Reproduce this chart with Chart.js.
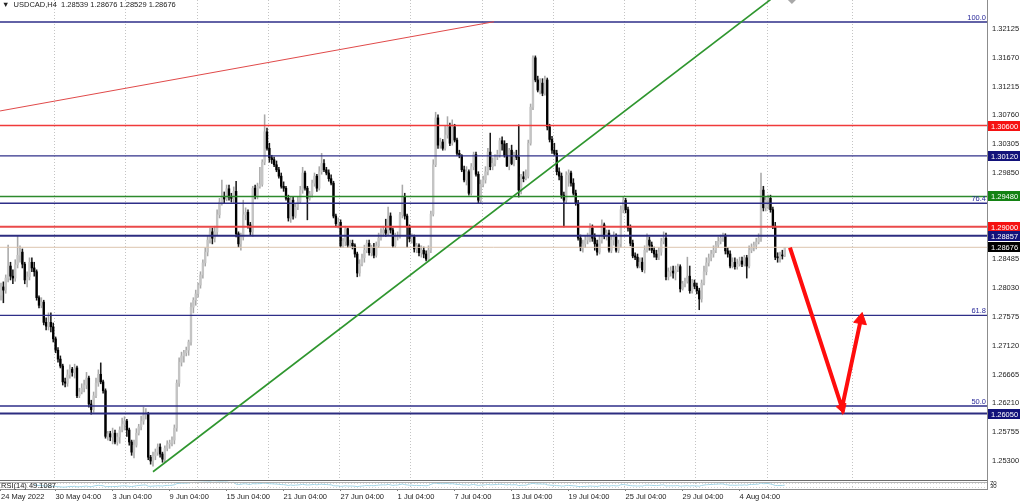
<!DOCTYPE html>
<html>
<head>
<meta charset="utf-8">
<title>USDCAD,H4</title>
<script src="https://cdn.jsdelivr.net/npm/chart.js@4.4.1/dist/chart.umd.min.js"></script>
<style>
  html, body { margin: 0; padding: 0; background: #fff; }
  #box { position: relative; width: 1024px; height: 501px; }
</style>
</head>
<body>
<div id="box"><canvas id="myChart" width="1024" height="501"></canvas></div>
<script>
// USDCAD H4, 24 May - 5 Aug 2022
const symbol = 'USDCAD,H4'
const firstOpen = 1.2792
const closes = [
  1.2805, 1.2800, 1.2819, 1.2838, 1.2822, 1.2819, 1.2840, 1.2855, 1.2860, 1.2841,
  1.2816, 1.2821, 1.2844, 1.2835, 1.2829, 1.2788, 1.2776, 1.2781, 1.2749, 1.2743,
  1.2749, 1.2742, 1.2723, 1.2705, 1.2691, 1.2680, 1.2655, 1.2653, 1.2666, 1.2675,
  1.2670, 1.2677, 1.2633, 1.2639, 1.2645, 1.2650, 1.2661, 1.2620, 1.2611, 1.2633,
  1.2653, 1.2667, 1.2655, 1.2641, 1.2569, 1.2573, 1.2568, 1.2574, 1.2560, 1.2568,
  1.2579, 1.2588, 1.2593, 1.2579, 1.2560, 1.2544, 1.2555, 1.2574, 1.2584, 1.2593,
  1.2603, 1.2604, 1.2536, 1.2530, 1.2538, 1.2544, 1.2552, 1.2541, 1.2533, 1.2550,
  1.2557, 1.2558, 1.2563, 1.2582, 1.2653, 1.2686, 1.2696, 1.2701, 1.2705, 1.2718,
  1.2773, 1.2784, 1.2794, 1.2808, 1.2824, 1.2843, 1.2860, 1.2879, 1.2892, 1.2882,
  1.2892, 1.2919, 1.2939, 1.2947, 1.2944, 1.2960, 1.2947, 1.2945, 1.2956, 1.2889,
  1.2873, 1.2884, 1.2919, 1.2923, 1.2903, 1.2892, 1.2961, 1.2948, 1.2964, 1.2967,
  1.3002, 1.3050, 1.3024, 1.3009, 1.3006, 1.2998, 1.2990, 1.2980, 1.2964, 1.2961,
  1.2945, 1.2914, 1.2942, 1.2917, 1.2931, 1.2940, 1.2958, 1.2985, 1.2961, 1.2945,
  1.2952, 1.2969, 1.2980, 1.2961, 1.2987, 1.3000, 1.2990, 1.2985, 1.2976, 1.2969,
  1.2917, 1.2905, 1.2907, 1.2870, 1.2877, 1.2897, 1.2871, 1.2874, 1.2870, 1.2857,
  1.2827, 1.2841, 1.2851, 1.2863, 1.2874, 1.2859, 1.2867, 1.2855, 1.2870, 1.2882,
  1.2890, 1.2895, 1.2890, 1.2917, 1.2895, 1.2870, 1.2884, 1.2885, 1.2919, 1.2948,
  1.2917, 1.2900, 1.2881, 1.2884, 1.2865, 1.2870, 1.2859, 1.2863, 1.2857, 1.2849,
  1.2863, 1.2920, 1.2998, 1.3072, 1.3029, 1.3034, 1.3024, 1.3045, 1.3058, 1.3032,
  1.3058, 1.3037, 1.3016, 1.3013, 1.2990, 1.2974, 1.2987, 1.2953, 1.2995, 1.3014,
  1.2983, 1.2942, 1.2967, 1.2974, 1.2987, 1.3018, 1.2995, 1.3000, 1.3010, 1.3014,
  1.3036, 1.3031, 1.3013, 1.2996, 1.3021, 1.3000, 1.3013, 1.3010, 1.2958, 1.2979,
  1.2976, 1.2980, 1.3032, 1.3089, 1.3167, 1.3132, 1.3116, 1.3127, 1.3111, 1.3132,
  1.3058, 1.3038, 1.3021, 1.3016, 1.2987, 1.2980, 1.2950, 1.2942, 1.2982, 1.2985,
  1.2969, 1.2953, 1.2937, 1.2882, 1.2867, 1.2873, 1.2879, 1.2884, 1.2898, 1.2882,
  1.2873, 1.2860, 1.2879, 1.2903, 1.2885, 1.2890, 1.2863, 1.2879, 1.2884, 1.2863,
  1.2873, 1.2927, 1.2942, 1.2927, 1.2898, 1.2874, 1.2854, 1.2852, 1.2838, 1.2844,
  1.2832, 1.2863, 1.2879, 1.2871, 1.2863, 1.2857, 1.2852, 1.2860, 1.2877, 1.2882,
  1.2821, 1.2829, 1.2830, 1.2827, 1.2832, 1.2837, 1.2802, 1.2810, 1.2814, 1.2822,
  1.2799, 1.2811, 1.2806, 1.2799, 1.2786, 1.2811, 1.2829, 1.2843, 1.2851, 1.2857,
  1.2863, 1.2871, 1.2877, 1.2882, 1.2885, 1.2862, 1.2857, 1.2838, 1.2844, 1.2837,
  1.2841, 1.2846, 1.2841, 1.2851, 1.2838, 1.2863, 1.2867, 1.2871, 1.2876, 1.2882,
  1.2958, 1.2930, 1.2942, 1.2945, 1.2927, 1.2901, 1.2852, 1.2851, 1.2855, 1.28539,
  1.28676
]
const highs = [
  1.2811, 1.2813, 1.2824, 1.2871, 1.2844, 1.2832, 1.2848, 1.2885, 1.2870, 1.2865,
  1.2844, 1.2829, 1.2851, 1.2851, 1.2844, 1.2832, 1.2791, 1.2788, 1.2784, 1.2756,
  1.2764, 1.2764, 1.2748, 1.2726, 1.2709, 1.2696, 1.2683, 1.2661, 1.2674, 1.2682,
  1.2678, 1.2683, 1.2680, 1.2645, 1.2652, 1.2658, 1.2670, 1.2664, 1.2626, 1.2639,
  1.2661, 1.2674, 1.2685, 1.2658, 1.2644, 1.2577, 1.2577, 1.2582, 1.2579, 1.2574,
  1.2584, 1.2598, 1.2600, 1.2596, 1.2582, 1.2563, 1.2563, 1.2581, 1.2588, 1.2601,
  1.2615, 1.2613, 1.2607, 1.2539, 1.2544, 1.2549, 1.2557, 1.2557, 1.2544, 1.2554,
  1.2562, 1.2563, 1.2568, 1.2587, 1.2658, 1.2693, 1.2702, 1.2705, 1.2710, 1.2721,
  1.2780, 1.2788, 1.2800, 1.2811, 1.2829, 1.2848, 1.2867, 1.2885, 1.2898, 1.2898,
  1.2901, 1.2927, 1.2945, 1.2974, 1.2955, 1.2966, 1.2966, 1.2953, 1.2963, 1.2972,
  1.2892, 1.2890, 1.2942, 1.2930, 1.2927, 1.2907, 1.2964, 1.2966, 1.2969, 1.2994,
  1.3006, 1.3077, 1.3056, 1.3032, 1.3013, 1.3010, 1.3004, 1.2994, 1.2985, 1.2971,
  1.2964, 1.2950, 1.2948, 1.2947, 1.2937, 1.2947, 1.2964, 1.2994, 1.2988, 1.2964,
  1.2956, 1.2974, 1.2985, 1.2983, 1.2995, 1.3016, 1.3006, 1.2994, 1.2990, 1.2982,
  1.2972, 1.2920, 1.2914, 1.2911, 1.2882, 1.2901, 1.2898, 1.2879, 1.2879, 1.2873,
  1.2860, 1.2848, 1.2857, 1.2871, 1.2879, 1.2879, 1.2871, 1.2874, 1.2876, 1.2890,
  1.2897, 1.2901, 1.2912, 1.2931, 1.2922, 1.2898, 1.2890, 1.2892, 1.2923, 1.2966,
  1.2953, 1.2920, 1.2903, 1.2889, 1.2887, 1.2874, 1.2873, 1.2870, 1.2868, 1.2862,
  1.2870, 1.2925, 1.3006, 1.3081, 1.3077, 1.3040, 1.3038, 1.3060, 1.3074, 1.3064,
  1.3069, 1.3062, 1.3040, 1.3021, 1.3014, 1.2996, 1.2995, 1.2990, 1.3000, 1.3018,
  1.3018, 1.2987, 1.2974, 1.2980, 1.2995, 1.3024, 1.3048, 1.3009, 1.3014, 1.3021,
  1.3040, 1.3042, 1.3036, 1.3032, 1.3024, 1.3029, 1.3018, 1.3021, 1.3061, 1.2983,
  1.2987, 1.2990, 1.3037, 1.3094, 1.3170, 1.3170, 1.3138, 1.3134, 1.3134, 1.3138,
  1.3135, 1.3062, 1.3043, 1.3032, 1.3021, 1.2993, 1.2985, 1.2955, 1.2987, 1.2990,
  1.2988, 1.2976, 1.2958, 1.2942, 1.2887, 1.2879, 1.2885, 1.2890, 1.2905, 1.2903,
  1.2889, 1.2879, 1.2885, 1.2911, 1.2906, 1.2895, 1.2895, 1.2885, 1.2892, 1.2889,
  1.2879, 1.2933, 1.2947, 1.2945, 1.2931, 1.2903, 1.2879, 1.2859, 1.2857, 1.2851,
  1.2851, 1.2870, 1.2889, 1.2884, 1.2876, 1.2868, 1.2863, 1.2867, 1.2882, 1.2892,
  1.2890, 1.2835, 1.2837, 1.2838, 1.2838, 1.2841, 1.2840, 1.2814, 1.2819, 1.2852,
  1.2838, 1.2817, 1.2816, 1.2811, 1.2803, 1.2816, 1.2838, 1.2851, 1.2857, 1.2863,
  1.2870, 1.2877, 1.2884, 1.2887, 1.2890, 1.2889, 1.2867, 1.2862, 1.2851, 1.2851,
  1.2849, 1.2852, 1.2852, 1.2855, 1.2855, 1.2870, 1.2873, 1.2876, 1.2882, 1.2889,
  1.2985, 1.2964, 1.2947, 1.2950, 1.2950, 1.2931, 1.2907, 1.2859, 1.2860, 1.2863,
  1.28676
]
const lows = [
  1.2784, 1.2780, 1.2795, 1.2813, 1.2816, 1.2810, 1.2814, 1.2835, 1.2844, 1.2835,
  1.2810, 1.2805, 1.2816, 1.2829, 1.2822, 1.2784, 1.2772, 1.2772, 1.2745, 1.2737,
  1.2737, 1.2734, 1.2718, 1.2701, 1.2686, 1.2677, 1.2650, 1.2647, 1.2648, 1.2661,
  1.2664, 1.2661, 1.2630, 1.2630, 1.2636, 1.2639, 1.2644, 1.2615, 1.2604, 1.2607,
  1.2630, 1.2648, 1.2652, 1.2637, 1.2566, 1.2563, 1.2562, 1.2557, 1.2557, 1.2555,
  1.2558, 1.2576, 1.2579, 1.2569, 1.2555, 1.2539, 1.2535, 1.2552, 1.2571, 1.2579,
  1.2588, 1.2596, 1.2532, 1.2525, 1.2522, 1.2532, 1.2539, 1.2536, 1.2528, 1.2528,
  1.2546, 1.2550, 1.2554, 1.2557, 1.2577, 1.2648, 1.2680, 1.2686, 1.2696, 1.2697,
  1.2713, 1.2764, 1.2776, 1.2789, 1.2803, 1.2819, 1.2838, 1.2854, 1.2874, 1.2873,
  1.2876, 1.2887, 1.2914, 1.2934, 1.2937, 1.2941, 1.2942, 1.2939, 1.2937, 1.2884,
  1.2868, 1.2863, 1.2879, 1.2911, 1.2898, 1.2887, 1.2885, 1.2944, 1.2944, 1.2961,
  1.2964, 1.2998, 1.3021, 1.3002, 1.3000, 1.2995, 1.2987, 1.2977, 1.2961, 1.2956,
  1.2942, 1.2909, 1.2907, 1.2912, 1.2914, 1.2927, 1.2937, 1.2953, 1.2958, 1.2911,
  1.2942, 1.2947, 1.2964, 1.2956, 1.2958, 1.2983, 1.2987, 1.2982, 1.2972, 1.2966,
  1.2914, 1.2900, 1.2898, 1.2867, 1.2867, 1.2870, 1.2867, 1.2867, 1.2865, 1.2852,
  1.2821, 1.2822, 1.2838, 1.2844, 1.2859, 1.2855, 1.2854, 1.2851, 1.2852, 1.2867,
  1.2879, 1.2885, 1.2885, 1.2887, 1.2890, 1.2867, 1.2867, 1.2879, 1.2882, 1.2914,
  1.2912, 1.2868, 1.2876, 1.2874, 1.2860, 1.2859, 1.2854, 1.2852, 1.2851, 1.2846,
  1.2846, 1.2859, 1.2917, 1.2995, 1.3024, 1.3024, 1.3021, 1.3021, 1.3040, 1.3028,
  1.3029, 1.3034, 1.3013, 1.3009, 1.2987, 1.2971, 1.2966, 1.2950, 1.2950, 1.2990,
  1.2980, 1.2937, 1.2937, 1.2963, 1.2969, 1.2982, 1.2990, 1.2990, 1.2996, 1.3006,
  1.3010, 1.3021, 1.3010, 1.2995, 1.2990, 1.2998, 1.2996, 1.3006, 1.2947, 1.2952,
  1.2971, 1.2974, 1.2977, 1.3029, 1.3085, 1.3129, 1.3113, 1.3110, 1.3107, 1.3108,
  1.3053, 1.3034, 1.3016, 1.3013, 1.2982, 1.2974, 1.2945, 1.2900, 1.2937, 1.2964,
  1.2964, 1.2950, 1.2934, 1.2879, 1.2862, 1.2860, 1.2867, 1.2873, 1.2876, 1.2877,
  1.2863, 1.2855, 1.2857, 1.2874, 1.2881, 1.2879, 1.2860, 1.2859, 1.2871, 1.2860,
  1.2859, 1.2868, 1.2922, 1.2922, 1.2893, 1.2870, 1.2851, 1.2848, 1.2835, 1.2835,
  1.2829, 1.2827, 1.2860, 1.2863, 1.2859, 1.2852, 1.2848, 1.2848, 1.2855, 1.2873,
  1.2816, 1.2816, 1.2822, 1.2819, 1.2816, 1.2829, 1.2797, 1.2800, 1.2805, 1.2811,
  1.2795, 1.2795, 1.2802, 1.2794, 1.2769, 1.2781, 1.2808, 1.2824, 1.2838, 1.2846,
  1.2852, 1.2859, 1.2867, 1.2873, 1.2877, 1.2857, 1.2852, 1.2835, 1.2835, 1.2833,
  1.2833, 1.2838, 1.2837, 1.2838, 1.2819, 1.2835, 1.2859, 1.2862, 1.2865, 1.2873,
  1.2877, 1.2925, 1.2925, 1.2928, 1.2923, 1.2897, 1.2848, 1.2844, 1.2844, 1.2849,
  1.28529
]

// time axis: label text and the bar it is written at
const dateLabels = ['24 May 2022', '30 May 04:00', '3 Jun 04:00', '9 Jun 04:00', '15 Jun 04:00', '21 Jun 04:00', '27 Jun 04:00',
  '1 Jul 04:00', '7 Jul 04:00', '13 Jul 04:00', '19 Jul 04:00', '25 Jul 04:00', '29 Jul 04:00', '4 Aug 04:00']
const dateBars = [0, 23, 47, 71, 95, 119, 143, 167, 191, 215, 239, 263, 287, 311]
const gridBars = [22.4, 52.4, 82.4, 112.4, 142.4, 172.4, 202.4, 232.4, 262.4, 292.4, 322.4, 358.3]
const priceTicks = [1.32125, 1.31670, 1.31215, 1.30760, 1.30305, 1.29850, 1.28485, 1.28030, 1.27575, 1.27120, 1.26665, 1.26210, 1.25755, 1.25300]

// horizontal levels drawn on the chart
const levelPrices = [1.30600, 1.30120, 1.29480, 1.29000, 1.28857, 1.26050]
const currentPrice = 1.28676
// fibo grid (0 and 100) and the levels shown
const fiboLow = 1.20102
const fiboHigh = 1.32236
const fiboLevels = [100.0, 76.4, 61.8, 50.0]

// [bar, price]
const redTrend = [[-0.4, 1.3083], [207.6, 1.3224]]
const greenTrend = [[64.0, 1.2513], [324.0, 1.3259]]
const arrowPath = [[332.2, 1.2867], [354.1, 1.2614], [362.0, 1.2753]]

const rsiText = 'RSI(14) 49.1087'
const rsiLevels = [30, 70]

// ---- view / styles ----
const xMin = -0.42
const xMax = 415.16
const yMin = 1.24984
const yMax = 1.32583
const levelStyle = [
  { line: '#f03a3a', width: 1.4, box: '#f51212' },
  { line: '#30308a', width: 1.2, box: '#12127a' },
  { line: '#2d8a2d', width: 1.5, box: '#148214' },
  { line: '#ea4a4a', width: 2, box: '#f51212' },
  { line: '#2c2c80', width: 2, box: '#12127a' },
  { line: '#2c2c80', width: 2, box: '#12127a' }
]
const navy = '#2e2e88'
const font = '"Liberation Sans", Arial, sans-serif'

const opens = closes.map((c, i) => i === 0 ? firstOpen : closes[i - 1])
const bars = closes.map((c, i) => i)
const up = bars.map(i => closes[i] >= opens[i])
const fiboPrice = f => fiboLow + (fiboHigh - fiboLow) * f / 100

// Wilder RSI(14) of the closes
function rsiOf(cl, n) {
  const out = cl.map(() => null)
  let g = 0, l = 0
  for (let i = 1; i <= n; i++) {
    const d = cl[i] - cl[i - 1]
    if (d > 0) g += d; else l -= d
  }
  g /= n; l /= n
  out[n] = 100 - 100 / (1 + g / (l || 1e-9))
  for (let i = n + 1; i < cl.length; i++) {
    const d = cl[i] - cl[i - 1]
    g = (g * (n - 1) + Math.max(d, 0)) / n
    l = (l * (n - 1) + Math.max(-d, 0)) / n
    out[i] = 100 - 100 / (1 + g / (l || 1e-9))
  }
  return out
}
const rsi = rsiOf(closes, 14)

function segment(points, color, width, order) {
  return {
    type: 'line',
    data: points.map(p => ({ x: p[0], y: p[1] })),
    borderColor: color,
    borderWidth: width,
    pointRadius: 0,
    yAxisID: 'y',
    order: order
  }
}

const datasets = []
// candles: wicks then bodies, both floating bars
datasets.push({
  type: 'bar',
  data: bars.map(i => ({ x: i, y: [Math.min(lows[i], opens[i], closes[i]), Math.max(highs[i], opens[i], closes[i])] })),
  backgroundColor: bars.map(i => up[i] ? '#a9a9a9' : '#1a1a1a'),
  barThickness: 0.9,
  grouped: false,
  borderWidth: 0,
  yAxisID: 'y',
  order: 20
})
datasets.push({
  type: 'bar',
  data: bars.map(i => ({ x: i, y: [opens[i], closes[i]] })),
  backgroundColor: bars.map(i => up[i] ? '#c4c4c4' : '#000000'),
  barThickness: 1.7,
  minBarLength: 1,
  grouped: false,
  borderWidth: 0,
  yAxisID: 'y',
  order: 19
})
// horizontal lines
fiboLevels.forEach(f => datasets.push(segment([[xMin - 1, fiboPrice(f)], [xMax + 1, fiboPrice(f)]], navy, 1.4, 8)))
datasets.push(segment([[xMin - 1, currentPrice], [xMax + 1, currentPrice]], '#dcc4ae', 1, 9))
levelPrices.forEach((p, i) => datasets.push(segment([[xMin - 1, p], [xMax + 1, p]], levelStyle[i].line, levelStyle[i].width, 7)))
// trend lines
datasets.push(segment(redTrend, '#e04a4a', 1, 6))
datasets.push(segment(greenTrend, '#2f962f', 1.6, 6))
// red arrow
datasets.push({
  type: 'line',
  data: arrowPath.map(p => ({ x: p[0], y: p[1] })),
  borderColor: '#ff0d0d',
  borderWidth: 4,
  borderJoinStyle: 'miter',
  pointStyle: 'triangle',
  pointRadius: [0, 6, 7.5],
  pointRotation: [0, 162, 11],
  pointBackgroundColor: '#ff0d0d',
  pointBorderColor: '#ff0d0d',
  pointBorderWidth: 1,
  yAxisID: 'y',
  clip: false,
  order: 1
})
// RSI sub window
datasets.push({
  type: 'line',
  data: bars.map(i => ({ x: i, y: rsi[i] })),
  borderColor: '#9fd4e6',
  borderWidth: 1,
  pointRadius: 0,
  yAxisID: 'rsi',
  order: 2
})

function priceBox(ctx, yPix, text, bg, left) {
  const top = Math.round(yPix) - 5
  ctx.fillStyle = bg
  ctx.fillRect(left, top, 32, 10)
  ctx.fillStyle = '#ffffff'
  ctx.fillText(text, left + 3, top + 5.5)
}

const mtDecor = {
  id: 'mtDecor',
  beforeDatasetsDraw(chart) {
    const { ctx, chartArea: a, scales: { x, rsi } } = chart
    ctx.save()
    ctx.lineWidth = 1
    ctx.setLineDash([1, 2])
    ctx.strokeStyle = '#c4c4c4'
    gridBars.forEach(b => {
      const px = Math.round(x.getPixelForValue(b)) + 0.5
      ctx.beginPath()
      ctx.moveTo(px, a.top)
      ctx.lineTo(px, a.bottom)
      ctx.stroke()
    })
    ctx.strokeStyle = '#d4d4d4'
    rsiLevels.forEach(v => {
      const py = Math.round(rsi.getPixelForValue(v)) + 0.5
      ctx.beginPath()
      ctx.moveTo(a.left, py)
      ctx.lineTo(a.right, py)
      ctx.stroke()
    })
    ctx.restore()
  },
  afterDraw(chart) {
    const { ctx, chartArea: a, scales: { x, y, rsi } } = chart
    ctx.save()
    // border between price window and RSI window
    const sep = Math.round(y.bottom)
    ctx.lineWidth = 1
    ctx.strokeStyle = '#6c6c6c'
    ctx.beginPath(); ctx.moveTo(a.left, sep - 0.5); ctx.lineTo(a.right, sep - 0.5); ctx.stroke()
    ctx.strokeStyle = '#b4b4b4'
    ctx.beginPath(); ctx.moveTo(a.left, sep + 1.5); ctx.lineTo(a.right, sep + 1.5); ctx.stroke()

    ctx.font = '7.5px ' + font
    ctx.textAlign = 'left'
    ctx.textBaseline = 'top'
    ctx.fillStyle = '#222'
    const last = closes.length - 1
    ctx.fillText('\u25BC  ' + symbol + '  ' + [opens[last], highs[last], lows[last], closes[last]].map(v => v.toFixed(5)).join(' '), 2, 1)
    ctx.fillText(rsiText, 1, rsi.top + 1)

    // fibo captions
    ctx.fillStyle = '#2a2a9a'
    ctx.textAlign = 'right'
    ctx.textBaseline = 'bottom'
    fiboLevels.forEach(f => ctx.fillText(f.toFixed(1), a.right - 1, y.getPixelForValue(fiboPrice(f)) - 0.5))

    // price labels on the right scale
    ctx.textAlign = 'left'
    ctx.textBaseline = 'middle'
    levelPrices.forEach((p, i) => priceBox(ctx, y.getPixelForValue(p), p.toFixed(5), levelStyle[i].box, a.right + 1))
    priceBox(ctx, y.getPixelForValue(currentPrice), currentPrice.toFixed(5), '#000000', a.right + 1)

    // RSI scale
    ctx.fillStyle = '#222'
    ctx.font = '6px ' + font
    rsiLevels.forEach(v => ctx.fillText(String(v), a.right + 3, rsi.getPixelForValue(v)))

    // chart shift marker
    const sx = x.getPixelForValue(closes.length + 2)
    ctx.fillStyle = '#a8a8a8'
    ctx.beginPath(); ctx.moveTo(sx - 4, 0); ctx.lineTo(sx + 4, 0); ctx.lineTo(sx, 4); ctx.closePath(); ctx.fill()
    ctx.restore()
  }
}

Chart.defaults.font.family = font

const myChart = new Chart(document.getElementById('myChart'), {
  type: 'bar',
  data: { datasets: datasets },
  options: {
    responsive: false,
    animation: false,
    devicePixelRatio: 1,
    events: [],
    layout: { padding: 0, autoPadding: false },
    plugins: { legend: { display: false }, tooltip: { enabled: false } },
    scales: {
      x: {
        type: 'linear',
        min: xMin,
        max: xMax,
        offset: false,
        afterBuildTicks: s => { s.ticks = dateBars.map(v => ({ value: v })) },
        afterFit: s => { s.height = 12; s.paddingLeft = 0; s.paddingRight = 0 },
        ticks: {
          autoSkip: false,
          maxRotation: 0,
          align: 'start',
          padding: 1,
          color: '#1c1c1c',
          font: { size: 7.5 },
          callback: v => dateLabels[dateBars.indexOf(v)]
        },
        grid: { offset: false, drawOnChartArea: false, drawTicks: true, tickLength: 2, color: '#808080' },
        border: { display: true, color: '#8c8c8c' }
      },
      y: {
        position: 'right',
        stack: 'win',
        stackWeight: 481,
        min: yMin,
        max: yMax,
        afterBuildTicks: s => { s.ticks = priceTicks.map(v => ({ value: v })) },
        afterFit: s => { s.width = 37; s.paddingTop = 0; s.paddingBottom = 0 },
        ticks: { autoSkip: false, padding: 5, color: '#1c1c1c', font: { size: 7.5 }, callback: v => v.toFixed(5) },
        grid: { display: false, drawTicks: false },
        border: { display: true, color: '#8c8c8c' }
      },
      rsi: {
        position: 'right',
        stack: 'win',
        stackWeight: 8,
        min: 0,
        max: 100,
        afterFit: s => { s.width = 37; s.paddingTop = 0; s.paddingBottom = 0 },
        ticks: { display: false },
        grid: { display: false, drawTicks: false },
        border: { display: true, color: '#8c8c8c' }
      }
    }
  },
  plugins: [mtDecor]
})
</script>
</body>
</html>
